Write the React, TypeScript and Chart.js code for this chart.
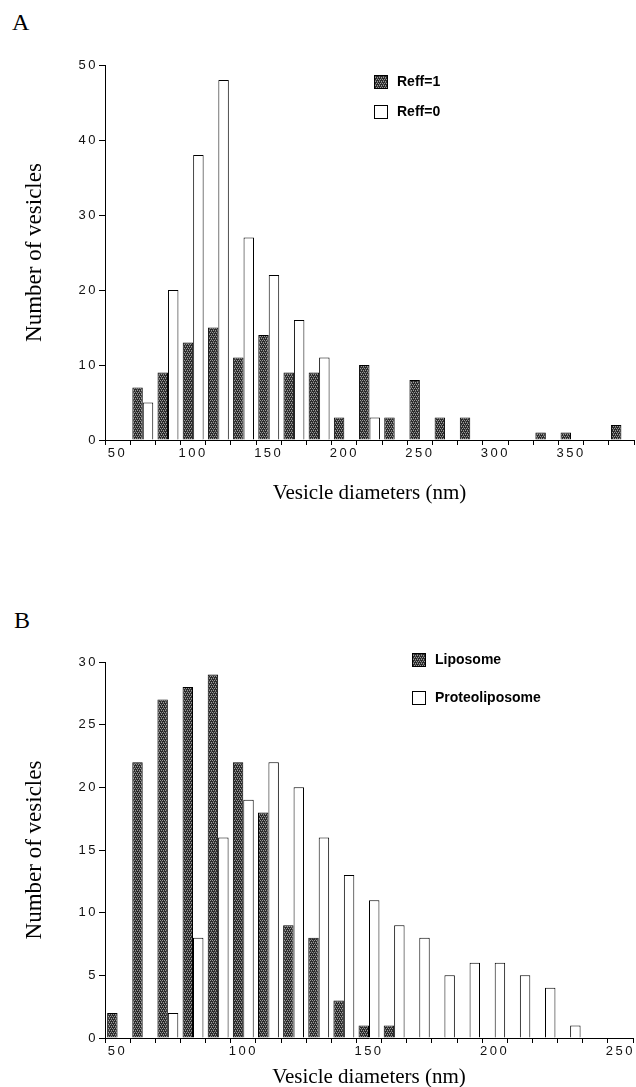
import React, { useEffect, useRef } from "react";
import { Chart, registerables } from "chart.js";

Chart.register(...registerables);

// ---------- Panel A data ----------
const tickLabelsA = ["50", "100", "150", "200", "250", "300", "350"];
const tickEveryA = 3;
const reff1 = [0, 7, 9, 13, 15, 11, 14, 9, 9, 3, 10, 3, 8, 3, 3, 0, 0, 1, 1, 0, 2];
const reff0 = [0, 5, 20, 38, 48, 27, 22, 16, 11, 0, 3, 0, 0, 0, 0, 0, 0, 0, 0, 0, 0];
const yMaxA = 50;
const yStepA = 10;

// ---------- Panel B data ----------
const tickLabelsB = ["50", "100", "150", "200", "250"];
const tickEveryB = 5;
const liposome = [2, 22, 27, 28, 29, 22, 18, 9, 8, 3, 1, 1, 0, 0, 0, 0, 0, 0, 0, 0, 0];
const proteoliposome = [0, 0, 2, 8, 16, 19, 22, 20, 16, 13, 11, 9, 8, 5, 6, 6, 5, 4, 1, 0, 0];
const yMaxB = 30;
const yStepB = 5;

const xTitle = "Vesicle diameters (nm)";
const yTitle = "Number of vesicles";

const SERIF = "'Liberation Serif', 'Times New Roman', serif";
const SANS = "'Liberation Sans', Arial, Helvetica, sans-serif";

function buildLabels(ticks: string[], every: number, n: number): string[] {
  const out: string[] = [];
  for (let i = 0; i < n; i++) out.push(i % every === 0 ? ticks[i / every] ?? "" : "");
  return out;
}

function makePattern(ctx: CanvasRenderingContext2D): CanvasPattern {
  const c = document.createElement("canvas");
  c.width = 4;
  c.height = 4;
  const g = c.getContext("2d")!;
  g.fillStyle = "#2a2a2a";
  g.fillRect(0, 0, 4, 4);
  g.fillStyle = "#9c9c9c";
  [[0, 0], [2, 0], [1, 2], [3, 2]].forEach(([x, y]) => g.fillRect(x, y, 1, 1));
  g.fillStyle = "#666666";
  [[1, 1], [3, 3]].forEach(([x, y]) => g.fillRect(x, y, 1, 1));
  return ctx.createPattern(c, "repeat")!;
}

function makeIcon(dark: boolean): HTMLCanvasElement {
  const c = document.createElement("canvas");
  c.width = 16;
  c.height = 14;
  const g = c.getContext("2d")!;
  g.fillStyle = dark ? makePattern(g) : "#ffffff";
  g.fillRect(0.5, 0.5, 13, 13);
  g.strokeStyle = "#000";
  g.lineWidth = 1;
  g.strokeRect(0.5, 0.5, 13, 13);
  return c;
}

interface PanelCfg {
  labels: string[];
  series: { label: string; data: number[]; dark: boolean }[];
  yMax: number;
  yStep: number;
  padTop: number;
  padBottom: number;
  padRight: number;
  xAxisHeight: number;
  legendDx: number;
  legendDy: number;
  legendGap: number;
}

const tickSpacing = {
  id: "tickSpacing",
  beforeDraw(c: any) {
    c.ctx.letterSpacing = "0px";
  },
  afterDatasetsDraw(c: any) {
    c.ctx.letterSpacing = "2.5px";
  },
  afterDraw(c: any) {
    c.ctx.letterSpacing = "0px";
  },
};

function makeChart(canvas: HTMLCanvasElement, cfg: PanelCfg): Chart {
  const ctx = canvas.getContext("2d")!;
  const pattern = makePattern(ctx);
  const icons = cfg.series.map((s) => makeIcon(s.dark));

  const placeLegend = {
    id: "placeLegend",
    afterLayout(chart: any) {
      const lg = chart.legend;
      if (!lg) return;
      const a = chart.chartArea;
      const pad = cfg.legendGap;
      lg.left = a.left + cfg.legendDx - pad;
      lg.top = a.top + cfg.legendDy - pad;
      lg.right = lg.left + 260;
      lg.bottom = lg.top + 160;
    },
  };

  const tickFont = { family: SANS, size: 13 };

  return new Chart(ctx, {
    type: "bar",
    data: {
      labels: cfg.labels,
      datasets: cfg.series.map((s) => ({
        label: s.label,
        data: s.data,
        backgroundColor: s.dark ? pattern : "#ffffff",
        borderColor: "#000000",
        borderWidth: 1,
        categoryPercentage: 0.83,
        barPercentage: 1.0,
      })),
    },
    options: {
      responsive: false,
      animation: false,
      layout: {
        padding: { left: 8, right: cfg.padRight, top: cfg.padTop, bottom: cfg.padBottom },
      },
      plugins: {
        tooltip: { enabled: false },
        legend: {
          position: "chartArea",
          align: "start",
          labels: {
            usePointStyle: true,
            pointStyleWidth: 16,
            boxHeight: 14,
            padding: cfg.legendGap,
            color: "#000",
            font: { family: SANS, size: 14, weight: "bold" },
            generateLabels: (chart: any) =>
              chart.data.datasets.map((ds: any, i: number) => ({
                text: ds.label,
                pointStyle: icons[i],
                fillStyle: "#fff",
                strokeStyle: "#000",
                lineWidth: 1,
                hidden: false,
                datasetIndex: i,
              })),
          },
        },
      },
      scales: {
        x: {
          type: "category",
          offset: true,
          grid: {
            offset: true,
            drawOnChartArea: false,
            drawTicks: true,
            tickLength: 5,
            color: "#000",
          },
          border: { display: true, color: "#000", width: 1 },
          ticks: {
            autoSkip: false,
            maxRotation: 0,
            minRotation: 0,
            padding: 1,
            z: 1,
            color: "#111",
            font: tickFont,
          },
          title: {
            display: true,
            text: xTitle,
            color: "#000",
            font: { family: SERIF, size: 21 },
            padding: { top: 0, bottom: 0 },
          },
          afterFit: (s: any) => {
            s.height = cfg.xAxisHeight;
          },
        },
        y: {
          min: 0,
          max: cfg.yMax,
          grid: {
            drawOnChartArea: false,
            drawTicks: true,
            tickLength: 6,
            color: "#000",
          },
          border: { display: true, color: "#000", width: 1 },
          ticks: {
            stepSize: cfg.yStep,
            padding: 1,
            z: 1,
            color: "#111",
            font: tickFont,
          },
          title: {
            display: true,
            text: yTitle,
            color: "#000",
            font: { family: SERIF, size: 23 },
            padding: { top: 13, bottom: 0 },
          },
          afterFit: (s: any) => {
            s.width = 97;
          },
        },
      },
    } as any,
    plugins: [placeLegend, tickSpacing],
  });
}

export default function App() {
  const refA = useRef<HTMLCanvasElement>(null);
  const refB = useRef<HTMLCanvasElement>(null);

  useEffect(() => {
    const chartA = makeChart(refA.current!, {
      labels: buildLabels(tickLabelsA, tickEveryA, reff1.length),
      series: [
        { label: "Reff=1", data: reff1, dark: true },
        { label: "Reff=0", data: reff0, dark: false },
      ],
      yMax: yMaxA,
      yStep: yStepA,
      padTop: 65,
      padBottom: 34,
      padRight: 2,
      xAxisHeight: 66,
      legendDx: 269,
      legendDy: 10,
      legendGap: 16,
    });
    const chartB = makeChart(refB.current!, {
      labels: buildLabels(tickLabelsB, tickEveryB, liposome.length),
      series: [
        { label: "Liposome", data: liposome, dark: true },
        { label: "Proteoliposome", data: proteoliposome, dark: false },
      ],
      yMax: yMaxB,
      yStep: yStepB,
      padTop: 122,
      padBottom: 10,
      padRight: 3,
      xAxisHeight: 52,
      legendDx: 307,
      legendDy: -9,
      legendGap: 24,
    });
    return () => {
      chartA.destroy();
      chartB.destroy();
    };
  }, []);

  const letter: React.CSSProperties = {
    position: "absolute",
    fontFamily: SERIF,
    fontSize: 24,
    lineHeight: "24px",
    color: "#000",
  };

  return (
    <div
      style={{
        position: "absolute",
        left: 0,
        top: 0,
        width: 636,
        height: 1087,
        overflow: "hidden",
        background: "#fff",
      }}
    >
      <div style={{ ...letter, left: 12, top: 10 }}>A</div>
      <canvas ref={refA} width={636} height={540} style={{ position: "absolute", left: 0, top: 0 }} />
      <div style={{ ...letter, left: 14, top: 608 }}>B</div>
      <canvas ref={refB} width={636} height={560} style={{ position: "absolute", left: 0, top: 540 }} />
    </div>
  );
}
